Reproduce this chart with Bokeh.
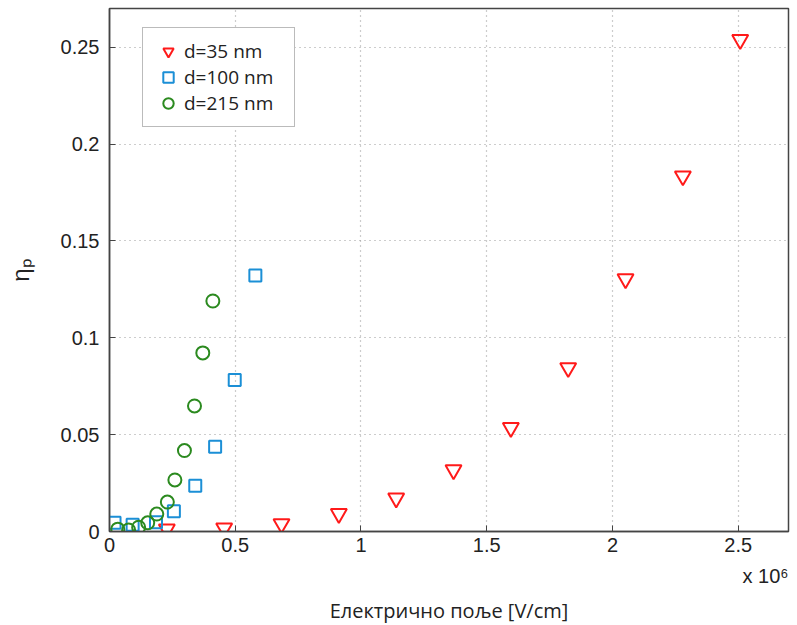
from bokeh.plotting import figure
from bokeh.models import (Range1d, FixedTicker, CustomJSTickFormatter,
                          Legend, LegendItem, Title)
from bokeh.embed import file_html
from bokeh.resources import INLINE

# Electric field in units of 10^6 V/cm, efficiency eta_p
x35 = [0.228, 0.456, 0.684, 0.912, 1.140, 1.368, 1.596, 1.824, 2.052, 2.280, 2.508]
y35 = [0.0012, 0.0018, 0.0040, 0.0092, 0.0172, 0.0318, 0.0536, 0.0845, 0.1304, 0.1835, 0.2539]
x100 = [0.020, 0.092, 0.185, 0.256, 0.341, 0.420, 0.498, 0.580]
y100 = [0.0045, 0.0035, 0.0048, 0.0104, 0.0236, 0.0438, 0.0782, 0.1322]
x215 = [0.033, 0.076, 0.116, 0.152, 0.188, 0.230, 0.260, 0.298, 0.338, 0.371, 0.411]
y215 = [0.0012, 0.0008, 0.0022, 0.0045, 0.0090, 0.0152, 0.0266, 0.0418, 0.0648, 0.0922, 0.1190]

labels = ["d=35 nm", "d=100 nm", "d=215 nm"]
xticks = [0, 0.5, 1, 1.5, 2, 2.5]
yticks = [0, 0.05, 0.1, 0.15, 0.2, 0.25]
x_label = "Електрично поље [V/cm]"
x_scale_note = "x 10⁶"
y_label = "ηₚ"

RED = "#ff1a1a"
BLUE = "#1b8fd6"
GREEN = "#2b8a1f"
AX = "#444444"
TICKFONT = "Liberation Sans"

p = figure(width=797, height=625, output_backend="svg", toolbar_location=None,
           x_range=Range1d(0, 2.7), y_range=Range1d(0, 0.27),
           min_border_left=109, min_border_right=9, min_border_top=8, min_border_bottom=94)
p.background_fill_color = "white"
p.border_fill_color = "white"
p.outline_line_color = AX
p.outline_line_width = 1.5

for ax in (p.xaxis[0], p.yaxis[0]):
    ax.axis_line_color = AX
    ax.axis_line_width = 1.5
    ax.major_tick_in = 6
    ax.major_tick_out = 0
    ax.minor_tick_line_color = None
    ax.major_tick_line_color = AX
    ax.major_label_text_font = TICKFONT
    ax.major_label_text_font_size = "20px"
    ax.major_label_text_color = "#222222"

p.xaxis.ticker = FixedTicker(ticks=xticks)
p.yaxis.ticker = FixedTicker(ticks=yticks)
p.xaxis.formatter = CustomJSTickFormatter(code="return Number(tick.toFixed(1)).toString();")
p.yaxis.formatter = CustomJSTickFormatter(code="return Number(tick.toFixed(2)).toString();")
p.xaxis.major_label_standoff = 6
p.yaxis.major_label_standoff = 10

p.yaxis.axis_label = y_label
p.yaxis.axis_label_text_font = TICKFONT
p.yaxis.axis_label_text_font_style = "normal"
p.yaxis.axis_label_text_font_size = "24px"
p.yaxis.axis_label_text_color = "#222222"
p.yaxis.axis_label_standoff = 24

# scale note and axis title stacked under the x axis
note = Title(text=x_scale_note, align="right", text_font=TICKFONT, text_font_size="20px",
             text_font_style="normal", text_color="#222222", standoff=16)
xt = Title(text=x_label, align="center", text_font="Open Sans", text_font_size="20px",
           text_font_style="normal", text_color="#222222", standoff=1)
p.add_layout(note, "below")
p.add_layout(xt, "below")

p.xgrid.ticker = FixedTicker(ticks=xticks)
p.ygrid.ticker = FixedTicker(ticks=yticks)
for g in (p.xgrid[0], p.ygrid[0]):
    g.grid_line_color = "#9a9a9a"
    g.grid_line_dash = "1 4"
    g.grid_line_width = 1.2

r35 = p.scatter(x35, y35, marker="inverted_triangle", size=16, fill_color=None,
                line_color=RED, line_width=2)
r100 = p.scatter(x100, y100, marker="square", size=12, fill_color=None,
                 line_color=BLUE, line_width=2)
r215 = p.scatter(x215, y215, marker="circle", size=13, fill_color=None,
                 line_color=GREEN, line_width=2)

legend = Legend(items=[LegendItem(label=labels[0], renderers=[r35]),
                       LegendItem(label=labels[1], renderers=[r100]),
                       LegendItem(label=labels[2], renderers=[r215])],
                location=(33, 404))
legend.label_text_font = "Open Sans"
legend.label_text_font_size = "19px"
legend.label_text_color = "#222222"
legend.label_height = 24
legend.glyph_height = 26
legend.glyph_width = 30
legend.label_standoff = 1
legend.label_width = 100
legend.spacing = 0
legend.padding = 10
legend.margin = 0
legend.border_line_color = "#777777"
legend.border_line_width = 1.5
legend.background_fill_color = "white"
legend.background_fill_alpha = 1
p.add_layout(legend)

open("out.html", "w").write(file_html(p, INLINE))
